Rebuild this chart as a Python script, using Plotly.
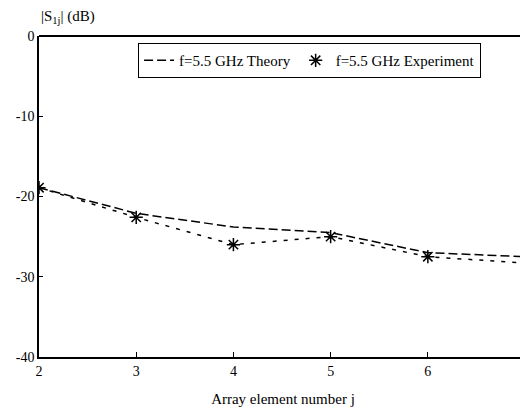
import plotly.graph_objects as go

# array element number j
elements = [2, 3, 4, 5, 6, 7]
# |S1j| in dB
theory_db = [-18.9, -22.1, -23.8, -24.5, -27.0, -27.5]
experiment_db = [-18.9, -22.6, -26.0, -25.0, -27.5, -28.3]
# experiment markers only at measured elements
marker_elements = [2, 3, 4, 5, 6]
marker_db = [-18.9, -22.6, -26.0, -25.0, -27.5]

y_ticks = [0, -10, -20, -30, -40]
y_labels = ["0", "-10", "-20", "-30", "-40"]
x_ticks = [2, 3, 4, 5, 6]

FONT = "Liberation Serif, Times New Roman, serif"

fig = go.Figure()

fig.add_trace(go.Scatter(
    x=elements, y=theory_db,
    mode="lines",
    name="f=5.5 GHz Theory",
    line=dict(color="black", width=1.5, dash="9px,4px"),
))

fig.add_trace(go.Scatter(
    x=elements, y=experiment_db,
    mode="lines",
    showlegend=False,
    line=dict(color="black", width=1.5, dash="4px,7px"),
))

fig.add_trace(go.Scatter(
    x=marker_elements, y=marker_db,
    mode="markers",
    name="f=5.5 GHz Experiment",
    marker=dict(symbol="asterisk-open", size=11, color="black",
                line=dict(color="black", width=1.5)),
))

# the page body adds an 8px margin, so the figure is 8px smaller
fig.update_layout(
    width=520, height=408,
    margin=dict(l=31, r=1, t=28, b=59),
    paper_bgcolor="white",
    plot_bgcolor="white",
    font=dict(family=FONT, size=14, color="black"),
    showlegend=True,
    legend=dict(
        orientation="h",
        x=0.203, y=0.978, xanchor="left", yanchor="top",
        bordercolor="black", borderwidth=1,
        bgcolor="white",
        font=dict(family=FONT, size=15),
        itemwidth=30,
        tracegroupgap=0,
    ),
    xaxis=dict(
        range=[2, 7.02],
        tickvals=x_ticks,
        ticks="inside", ticklen=5, tickcolor="black",
        showgrid=False, zeroline=False,
        showline=True, linecolor="black", linewidth=2,
        mirror=False,
        title=dict(text="Array element number j", font=dict(family=FONT, size=15), standoff=16),
    ),
    yaxis=dict(
        range=[-40, 0],
        tickvals=y_ticks,
        ticktext=y_labels,
        ticks="inside", ticklen=4, tickcolor="black",
        showgrid=False, zeroline=False,
        showline=True, linecolor="black", linewidth=1.5,
    ),
    annotations=[dict(
        text="|S<sub>1j</sub>| (dB)",
        xref="paper", yref="paper",
        x=0.0, y=1.0, xanchor="left", yanchor="bottom",
        yshift=8,
        showarrow=False,
        font=dict(family=FONT, size=15),
    )],
    shapes=[dict(
        type="line", xref="paper", yref="paper",
        x0=0, x1=1, y0=1, y1=1,
        line=dict(color="black", width=2),
    )],
)

fig.write_html("out.html")
